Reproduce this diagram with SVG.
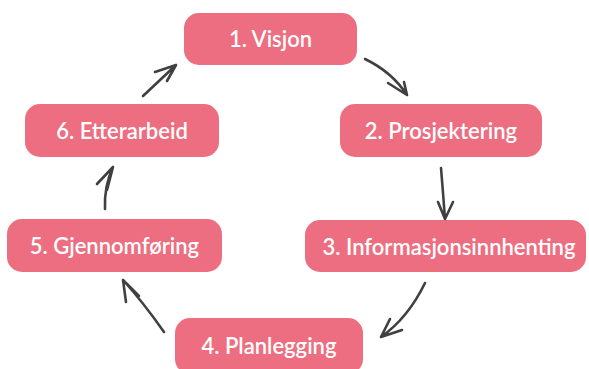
<svg xmlns="http://www.w3.org/2000/svg" width="589" height="369" viewBox="0 0 589 369">
<style>
.box{fill:#ED6E80}
.lbl{fill:#fff;font-family:Lato,"Open Sans",sans-serif;font-size:22px;font-weight:600;text-anchor:middle}
.arr{fill:none;stroke:#404040;stroke-width:2.6;stroke-linecap:round;stroke-linejoin:round}
</style>
<rect width="589" height="369" fill="#fff"/>
<g id="n1"><rect class="box" x="184" y="13" width="173" height="52" rx="15"/><text class="lbl" x="270.5" y="47">1. Visjon</text></g>
<g id="n2"><rect class="box" x="340" y="104" width="202" height="53" rx="15"/><text class="lbl" x="441" y="138.5">2. Prosjektering</text></g>
<g id="n3"><rect class="box" x="305" y="220" width="281" height="52" rx="15"/><text class="lbl" x="449" y="254.5">3. Informasjonsinnhenting</text></g>
<g id="n4"><rect class="box" x="175" y="318" width="188" height="56" rx="15"/><text class="lbl" x="269" y="353.5">4. Planlegging</text></g>
<g id="n5"><rect class="box" x="7" y="219" width="215" height="53" rx="15"/><text class="lbl" x="114.5" y="253.5">5. Gjennomføring</text></g>
<g id="n6"><rect class="box" x="25" y="104" width="194" height="53" rx="15"/><text class="lbl" x="122" y="138.5">6. Etterarbeid</text></g>
<g id="connectors">
<path class="arr" d="M365 59 Q392 72 407 95 M388 83 L407 95 L404 82"/>
<path class="arr" d="M441 168 Q443 192 445 219 M438 202 L445 219 L453 202"/>
<path class="arr" d="M425 283 Q408 318 381 337 M390 319 L381 337 L402 330"/>
<path class="arr" d="M164 332 Q143 302 123 280 M126 302 L123 280 L139 296"/>
<path class="arr" d="M105 209 Q104 186 113 167 M97 184 L113 167 L107 190"/>
<path class="arr" d="M143 96 L176 65 M155 72 L176 65 L167 81"/>
</g>
</svg>
